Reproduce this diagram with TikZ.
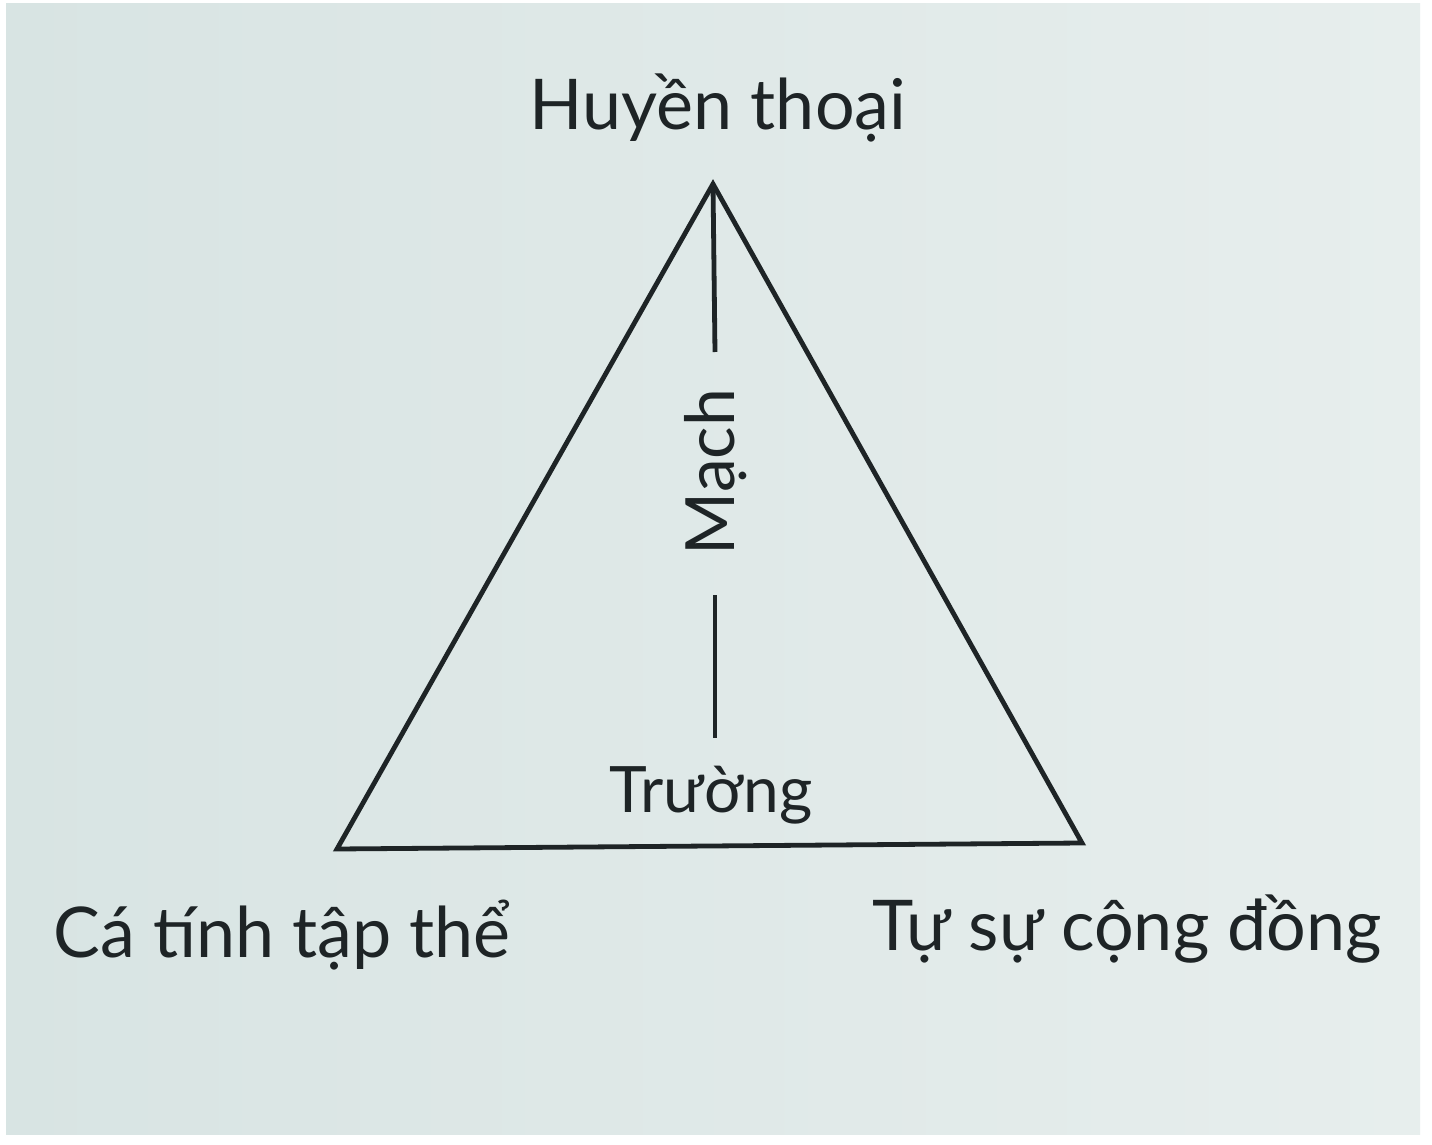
\documentclass[tikz,border=0pt]{standalone}
\usepackage{fontspec}
\setmainfont{Lato}
\definecolor{bgA}{HTML}{D8E4E3}
\definecolor{bgB}{HTML}{E7EEED}
\definecolor{ink}{HTML}{1E2426}
\begin{document}
\begin{tikzpicture}[x=0.5pt,y=-0.5pt,
  lbl/.style={inner sep=0pt,text=ink,font=\fontsize{35}{40}\selectfont},
  small/.style={inner sep=0pt,text=ink,font=\fontsize{32}{36}\selectfont},
  edge/.style={draw=ink,line width=2.4pt,line join=miter}]
\useasboundingbox (0,0) rectangle (1432,1145);
\fill[white] (0,0) rectangle (1432,1145);
\shade[left color=bgA,right color=bgB] (6,4) rectangle (1420,1134);
% vertices
\coordinate (A) at (713,184);
\coordinate (B) at (337,849);
\coordinate (C) at (1082,843);
\coordinate (m1) at (715,352);
\coordinate (m2) at (715,595);
\coordinate (m3) at (715,738);
\draw[edge] (A) -- (B) -- (C) -- cycle;
\draw[edge] (A) -- (m1);
\draw[edge] (m2) -- (m3);
% labels
\node[lbl,anchor=base] (top) at (718,130) {Huyền thoại};
\node[lbl,anchor=base] (left) at (282,957) {Cá tính tập thể};
\node[lbl,anchor=base] (right) at (1127,950) {Tự sự cộng đồng};
\node[small,anchor=base] (truong) at (711,812) {Trường};
\node[small,rotate=90,font=\fontsize{34}{38}\selectfont] (mach) at (716,472) {Mạch};
\end{tikzpicture}
\end{document}
